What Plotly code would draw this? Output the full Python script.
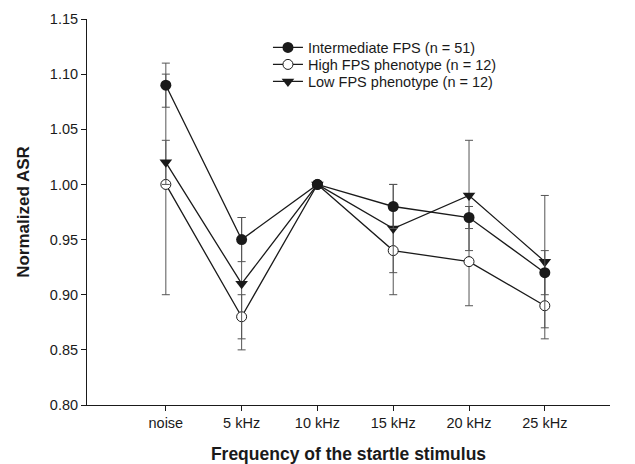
import plotly.graph_objects as go

# Stimulus categories along the x axis
categories = ["noise", "5 kHz", "10 kHz", "15 kHz", "20 kHz", "25 kHz"]
x_pos = list(range(len(categories)))

# Normalized acoustic startle response per group
intermediate_vals = [1.09, 0.95, 1.00, 0.98, 0.97, 0.92]
intermediate_err = [0.02, 0.02, 0.00, 0.02, 0.01, 0.02]

high_vals = [1.00, 0.88, 1.00, 0.94, 0.93, 0.89]
high_err = [0.10, 0.02, 0.00, 0.04, 0.04, 0.03]

low_vals = [1.02, 0.91, 1.00, 0.96, 0.99, 0.93]
low_err = [0.02, 0.06, 0.00, 0.04, 0.05, 0.06]

y_ticks = [0.80, 0.85, 0.90, 0.95, 1.00, 1.05, 1.10, 1.15]

FONT = "Liberation Sans, Arial, sans-serif"
INK = "#1a1a1a"


def err_style(arr):
    return dict(type="data", array=arr, visible=True,
                color="#555555", thickness=1, width=4)


def legend_box(ytop):
    return dict(
        x=0.346, y=ytop, xanchor="left", yanchor="top",
        bgcolor="rgba(0,0,0,0)", borderwidth=0,
        font=dict(family=FONT, size=14.5, color=INK),
        itemwidth=30,
    )


fig = go.Figure()

# High group first so the other groups' bars and lines sit above its hollow markers
fig.add_trace(go.Scatter(
    x=x_pos, y=high_vals, name="High FPS phenotype (n = 12)",
    mode="lines+markers", legend="legend2",
    line=dict(color=INK, width=1.3),
    marker=dict(symbol="circle", size=10, color="white",
                line=dict(color=INK, width=1)),
    error_y=err_style(high_err),
))
fig.add_trace(go.Scatter(
    x=x_pos, y=low_vals, name="Low FPS phenotype (n = 12)",
    mode="lines+markers", legend="legend3",
    line=dict(color=INK, width=1.3),
    marker=dict(symbol="triangle-down", size=11, color=INK,
                line=dict(color=INK, width=0)),
    error_y=err_style(low_err),
))
fig.add_trace(go.Scatter(
    x=x_pos, y=intermediate_vals, name="Intermediate FPS (n = 51)",
    mode="lines+markers", legend="legend",
    line=dict(color=INK, width=1.3),
    marker=dict(symbol="circle", size=11, color=INK,
                line=dict(color=INK, width=0)),
    error_y=err_style(intermediate_err),
))

fig.update_layout(
    width=635, height=464,
    margin=dict(l=87, r=25, t=19, b=59),
    paper_bgcolor="white", plot_bgcolor="white",
    font=dict(family=FONT, size=14, color=INK),
    showlegend=True,
    legend=legend_box(0.9676),
    legend2=legend_box(0.9236),
    legend3=legend_box(0.8795),
)

fig.update_xaxes(
    range=[-1.04, 5.86], automargin=False,
    tickvals=x_pos, ticktext=categories,
    showline=True, linecolor=INK, linewidth=1,
    ticks="outside", ticklen=5, tickcolor=INK, tickwidth=1,
    showgrid=False, zeroline=False,
    tickfont=dict(family=FONT, size=14.5, color=INK),
    title=dict(text="<b>Frequency of the startle stimulus</b>",
               font=dict(family=FONT, size=17.5, color=INK), standoff=19),
)

fig.update_yaxes(
    range=[0.80, 1.15], automargin=False,
    tickvals=y_ticks, tickformat=".2f",
    showline=True, linecolor=INK, linewidth=1,
    ticks="outside", ticklen=5, tickcolor=INK, tickwidth=1,
    showgrid=False, zeroline=False,
    tickfont=dict(family=FONT, size=14.5, color=INK),
    title=dict(text="<b>Normalized ASR</b>",
               font=dict(family=FONT, size=17, color=INK), standoff=15),
)

fig.write_html("out.html")
